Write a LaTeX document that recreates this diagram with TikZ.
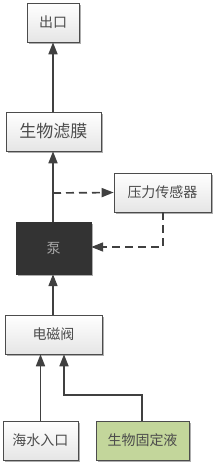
\documentclass[tikz,border=0pt]{standalone}
\usepackage{fontspec}
\setmainfont{Noto Sans CJK SC}
\usetikzlibrary{arrows.meta,shadows}
\definecolor{olivegreen}{HTML}{C3D69B}
\begin{document}
\begin{tikzpicture}[x=1pt,y=-1pt,
  box/.style={draw=black!70, line width=0.7pt, top color=white, bottom color=black!10,
    drop shadow={shadow xshift=1.6pt, shadow yshift=-1.6pt, fill=black!45, opacity=0.7},
    text=black!70, font=\fontsize{14}{16}\selectfont, inner sep=0pt},
  conn/.style={draw=black!75, line width=1.7pt, -{Triangle[length=12pt,width=9pt]}},
  dconn/.style={conn, dash pattern=on 8pt off 5pt}]
\useasboundingbox (0,0) rectangle (216,467);
\node[box, minimum width=52pt, minimum height=39pt] (out) at (53,22.5) {出口};
\node[box, minimum width=95pt, minimum height=39pt, font=\fontsize{17}{19}\selectfont] (filt) at (53.5,131.5) {生物滤膜};
\node[box, minimum width=97pt, minimum height=39pt] (sens) at (162.5,192.5) {压力传感器};
\node[draw=black!80, fill=black!80, text=black!35, font=\fontsize{14}{16}\selectfont,
  minimum width=75pt, minimum height=52pt, inner sep=0pt,
  drop shadow={shadow xshift=1.6pt, shadow yshift=-1.6pt, fill=black!45, opacity=0.7}] (pump) at (53.5,248) {泵};
\node[box, minimum width=97pt, minimum height=39pt] (valve) at (53.5,334.5) {电磁阀};
\node[box, minimum width=75pt, minimum height=39pt] (sea) at (40.5,440.5) {海水入口};
\node[box, minimum width=93pt, minimum height=39pt, top color=olivegreen, bottom color=olivegreen] (bio) at (142.5,440.5) {生物固定液};
\coordinate (t1) at (53,193);
\coordinate (c1) at (163,247);
\coordinate (c2) at (142,395);
\coordinate (c3) at (64,395);
\draw[conn] (filt.north -| out.south) -- (out.south);
\draw[conn] (pump.north -| 53,0) -- (filt.south -| 53,0);
\draw[dconn] (t1) -- (sens.west);
\draw[dconn] (sens.south -| c1) -- (c1) -- (pump.east |- c1);
\draw[conn] (valve.north -| 53,0) -- (pump.south -| 53,0);
\draw[conn] (sea.north) -- (valve.south -| sea.north);
\draw[conn] (bio.north -| c2) -- (c2) -- (c3) -- (valve.south -| c3);
\end{tikzpicture}
\end{document}
